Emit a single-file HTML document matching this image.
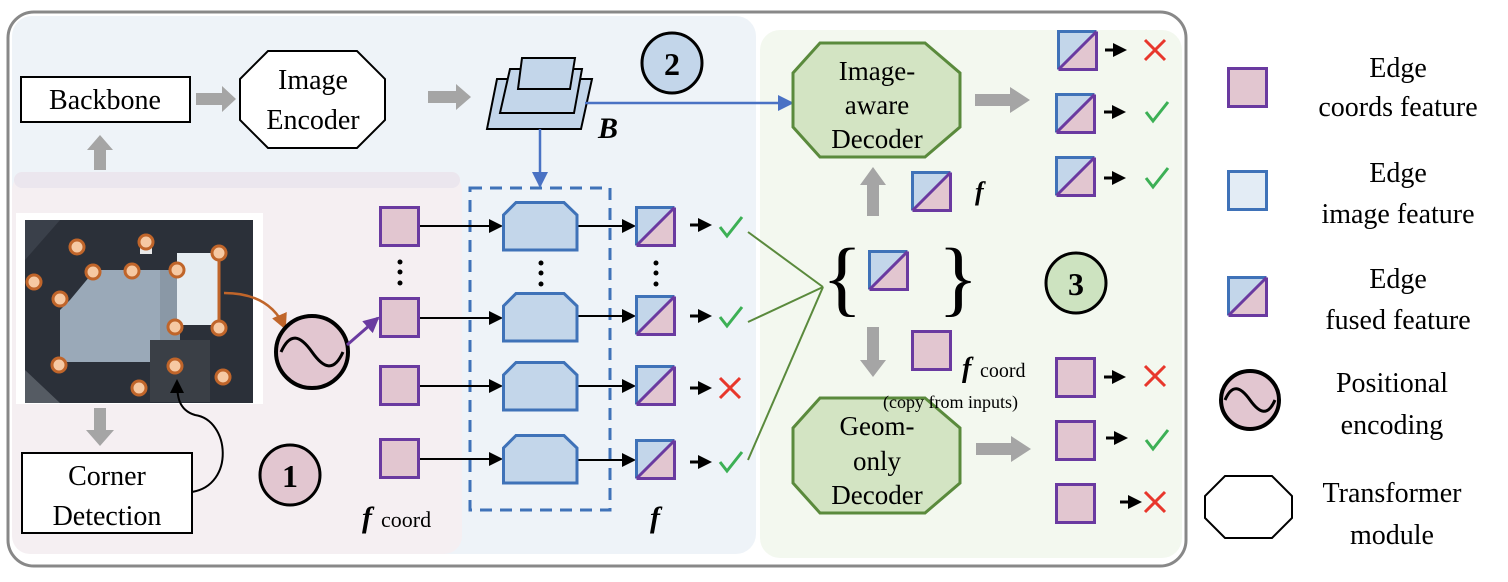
<!DOCTYPE html>
<html><head><meta charset="utf-8"><style>
html,body{margin:0;padding:0;background:#fff;}
svg{display:block;font-family:"Liberation Serif","DejaVu Serif",serif;}
svg text{font-family:"Liberation Serif","DejaVu Serif",serif !important;fill:#000;}
</style></head><body>
<svg width="1508" height="582" viewBox="0 0 1508 582" xmlns="http://www.w3.org/2000/svg" font-family="Liberation Serif, DejaVu Serif, serif">
<defs>
<marker id="ab" markerWidth="14" markerHeight="14" refX="12" refY="7" orient="auto" markerUnits="userSpaceOnUse"><path d="M0,0 L14,7 L0,14 z" fill="#000"/></marker>
<marker id="abl" markerWidth="16" markerHeight="16" refX="14" refY="8" orient="auto" markerUnits="userSpaceOnUse"><path d="M0,0 L16,8 L0,16 z" fill="#4a72c4"/></marker>
<marker id="apu" markerWidth="16" markerHeight="16" refX="14" refY="8" orient="auto" markerUnits="userSpaceOnUse"><path d="M0,0 L16,8 L0,16 z" fill="#6a3aa0"/></marker>
<marker id="aor" markerWidth="16" markerHeight="16" refX="14" refY="8" orient="auto" markerUnits="userSpaceOnUse"><path d="M0,0 L16,8 L0,16 z" fill="#c0652a"/></marker>
<g id="pk"><rect x="1.5" y="1.5" width="38" height="38" fill="#e2c6d0" stroke="#6a3aa0" stroke-width="3"/></g>
<g id="fu"><rect x="1.5" y="1.5" width="38" height="38" fill="#c3d6ea"/><path d="M1.5,39.5 L39.5,1.5 L39.5,39.5 z" fill="#e2c6d0"/><path d="M1.5,39.5 L1.5,1.5 L39.5,1.5" fill="none" stroke="#3f72b8" stroke-width="3"/><path d="M1.5,39.5 L39.5,39.5 L39.5,1.5 M1.5,39.5 L39.5,1.5" fill="none" stroke="#6a3aa0" stroke-width="3"/></g>
<g id="tb"><path d="M14,1.5 L62,1.5 L75,14 L75,49 L1.5,49 L1.5,14 z" fill="#c3d6ea" stroke="#3f72b8" stroke-width="3"/></g>
<g id="ck"><path d="M0,10 L7,19 L22,0" fill="none" stroke="#3cb055" stroke-width="3"/></g>
<g id="xx"><path d="M0,0 L20,20 M20,0 L0,20" fill="none" stroke="#e8372c" stroke-width="3"/></g>
<g id="sa"><line x1="0" y1="0" x2="10" y2="0" stroke="#000" stroke-width="3"/><path d="M8,-7 L22,0 L8,7 z" fill="#000"/></g>
</defs>

<rect x="12" y="16" width="744" height="538" rx="20" fill="#eef3f8"/>
<rect x="12" y="172" width="450" height="382" rx="18" fill="#f5eff2"/>
<rect x="14" y="172" width="446" height="16" rx="8" fill="#ebe6ee"/>
<rect x="760" y="30" width="422" height="528" rx="20" fill="#f3f8ef"/>
<rect x="8" y="12" width="1178" height="554" rx="26" fill="none" stroke="#888" stroke-width="3"/>

<rect x="21" y="77" width="169" height="45" fill="#fff" stroke="#000" stroke-width="2"/>
<text x="105" y="109" font-size="28" text-anchor="middle">Backbone</text>
<path d="M196,93 L222,93 L222,86 L236,99 L222,112 L222,105 L196,105 z" fill="#a5a5a5"/>
<path d="M268,51 L357,51 L385,79 L385,120 L357,148 L268,148 L240,120 L240,79 z" fill="#fff" stroke="#000" stroke-width="2"/>
<text x="313" y="89" font-size="28" text-anchor="middle">Image</text>
<text x="313" y="129" font-size="28" text-anchor="middle">Encoder</text>
<path d="M428,91 L456,91 L456,84 L471,97 L456,110 L456,103 L428,103 z" fill="#a5a5a5"/>
<path d="M497,79 L592,79 L581,129 L487,129 z" fill="#c3d6ea" stroke="#000" stroke-width="2"/>
<path d="M510,69 L582,69 L574,113 L500,113 z" fill="#c3d6ea" stroke="#000" stroke-width="2"/>
<path d="M522,58 L575,58 L570,89 L518,89 z" fill="#c3d6ea" stroke="#000" stroke-width="2"/>
<text x="598" y="138" font-size="30" font-weight="bold" font-style="italic">B</text>
<circle cx="672" cy="63" r="30" fill="#c3d6ea" stroke="#000" stroke-width="3"/>
<text x="672" y="75" font-size="32" font-weight="bold" text-anchor="middle">2</text>
<line x1="585" y1="103" x2="792" y2="103" stroke="#4a72c4" stroke-width="2.5" marker-end="url(#abl)"/>
<line x1="540" y1="129" x2="540" y2="186" stroke="#4a72c4" stroke-width="2.5" marker-end="url(#abl)"/>
<rect x="470" y="188" width="140" height="322" fill="none" stroke="#3f72b8" stroke-width="3" stroke-dasharray="12,8"/>

<path d="M94,170 L94,150 L87,150 L100,135 L113,150 L106,150 L106,170 z" fill="#a5a5a5"/>
<path d="M94,408 L94,430 L86,430 L100,446 L114,430 L106,430 L106,408 z" fill="#a5a5a5"/>

<rect x="16" y="213" width="247" height="191" fill="#fff"/>
<rect x="25" y="220" width="228" height="183" fill="#2b3039"/>
<path d="M25,220 L60,220 L25,260 z" fill="#3a404a"/>
<path d="M70,300 L95,270 L180,270 L180,362 L60,362 L60,310 z" fill="#9aa9b8"/>
<rect x="160" y="270" width="20" height="92" fill="#8a98a6"/>
<rect x="177" y="253" width="42" height="72" fill="#e6edf2"/>
<rect x="140" y="240" width="12" height="14" fill="#e8e8e8"/>
<rect x="150" y="340" width="60" height="62" fill="#3a3f46"/>
<path d="M25,370 L60,403 L25,403 z" fill="#555b63"/>
<line x1="219" y1="253" x2="219" y2="328" stroke="#c0652a" stroke-width="3"/>
<g fill="#f6c9a3" stroke="#c0652a" stroke-width="3">
<circle cx="77" cy="247" r="7"/><circle cx="146" cy="242" r="7"/><circle cx="219" cy="253" r="7"/><circle cx="34" cy="282" r="7"/><circle cx="93" cy="272" r="7"/><circle cx="132" cy="271" r="7"/><circle cx="177" cy="270" r="7"/><circle cx="60" cy="299" r="7"/><circle cx="175" cy="327" r="7"/><circle cx="219" cy="328" r="7"/><circle cx="59" cy="365" r="7"/><circle cx="175" cy="366" r="7"/><circle cx="223" cy="377" r="7"/><circle cx="139" cy="388" r="7"/>
</g>
<path d="M224,293 C255,293 275,305 285,328" fill="none" stroke="#c0652a" stroke-width="2.5" marker-end="url(#aor)"/>
<circle cx="312" cy="352" r="36" fill="#e2c6d0" stroke="#000" stroke-width="4"/>
<path d="M281,352 C290,332 300,335 312,352 C324,369 334,372 343,352" fill="none" stroke="#000" stroke-width="3"/>
<line x1="347" y1="345" x2="378" y2="318" stroke="#6a3aa0" stroke-width="3" marker-end="url(#apu)"/>
<rect x="22" y="453" width="170" height="80" fill="#fff" stroke="#000" stroke-width="2"/>
<text x="107" y="485" font-size="28" text-anchor="middle">Corner</text>
<text x="107" y="525" font-size="28" text-anchor="middle">Detection</text>
<path d="M192,492 C235,485 230,420 195,415 C178,410 177,395 177,381" fill="none" stroke="#000" stroke-width="2" marker-end="url(#ab)"/>
<circle cx="290" cy="475" r="30" fill="#e2c6d0" stroke="#000" stroke-width="3"/>
<text x="290" y="487" font-size="32" font-weight="bold" text-anchor="middle">1</text>

<use href="#pk" x="379" y="206"/><use href="#pk" x="379" y="297"/><use href="#pk" x="379" y="365"/><use href="#pk" x="379" y="438"/>
<g fill="#000"><circle cx="400" cy="262" r="2.5"/><circle cx="400" cy="272" r="2.5"/><circle cx="400" cy="283" r="2.5"/>
<circle cx="541" cy="263" r="2.5"/><circle cx="541" cy="273" r="2.5"/><circle cx="541" cy="284" r="2.5"/>
<circle cx="656" cy="263" r="2.5"/><circle cx="656" cy="273" r="2.5"/><circle cx="656" cy="284" r="2.5"/></g>
<g stroke="#000" stroke-width="2">
<line x1="420" y1="226" x2="501" y2="226" marker-end="url(#ab)"/><line x1="420" y1="318" x2="501" y2="318" marker-end="url(#ab)"/><line x1="420" y1="386" x2="501" y2="386" marker-end="url(#ab)"/><line x1="420" y1="459" x2="501" y2="459" marker-end="url(#ab)"/>
<line x1="578" y1="226" x2="634" y2="226" marker-end="url(#ab)"/><line x1="578" y1="316" x2="634" y2="316" marker-end="url(#ab)"/><line x1="578" y1="386" x2="634" y2="386" marker-end="url(#ab)"/><line x1="578" y1="460" x2="634" y2="460" marker-end="url(#ab)"/>
</g>
<use href="#tb" x="502" y="201"/><use href="#tb" x="502" y="292"/><use href="#tb" x="502" y="361"/><use href="#tb" x="502" y="434"/>
<use href="#fu" x="635" y="206"/><use href="#fu" x="635" y="295"/><use href="#fu" x="635" y="365"/><use href="#fu" x="635" y="439"/>
<use href="#sa" x="690" y="225"/><use href="#sa" x="690" y="316"/><use href="#sa" x="690" y="388"/><use href="#sa" x="690" y="462"/>
<use href="#ck" x="720" y="217"/><use href="#ck" x="720" y="307"/><use href="#xx" x="720" y="378"/><use href="#ck" x="720" y="452"/>
<text x="362" y="527" font-size="30" font-weight="bold" font-style="italic">f</text><text x="381" y="527" font-size="22">coord</text>
<text x="650" y="527" font-size="30" font-weight="bold" font-style="italic">f</text>

<g stroke="#5a8a3c" stroke-width="2" fill="none">
<line x1="748" y1="232" x2="823" y2="287"/><line x1="748" y1="322" x2="823" y2="287"/><line x1="748" y1="460" x2="823" y2="287"/>
</g>

<path d="M820,43 L925,43 L960,73 L960,127 L925,157 L820,157 L793,127 L793,73 z" fill="#d3e4c3" stroke="#5a8a3c" stroke-width="3"/>
<text x="877" y="80" font-size="27" text-anchor="middle">Image-</text>
<text x="877" y="114" font-size="27" text-anchor="middle">aware</text>
<text x="877" y="148" font-size="27" text-anchor="middle">Decoder</text>
<path d="M820,398 L925,398 L960,428 L960,483 L925,513 L820,513 L793,483 L793,428 z" fill="#d3e4c3" stroke="#5a8a3c" stroke-width="3"/>
<text x="877" y="435" font-size="27" text-anchor="middle">Geom-</text>
<text x="877" y="470" font-size="27" text-anchor="middle">only</text>
<text x="877" y="504" font-size="27" text-anchor="middle">Decoder</text>
<path d="M975,94 L1010,94 L1010,87 L1030,100 L1010,113 L1010,106 L975,106 z" fill="#a5a5a5"/>
<path d="M976,443 L1011,443 L1011,436 L1031,449 L1011,462 L1011,455 L976,455 z" fill="#a5a5a5"/>
<path d="M867,216 L867,185 L860,185 L873,167 L886,185 L879,185 L879,216 z" fill="#a5a5a5"/>
<path d="M867,327 L867,360 L860,360 L873,377 L886,360 L879,360 L879,327 z" fill="#a5a5a5"/>
<use href="#fu" x="911" y="171"/>
<text x="975" y="200" font-size="26" font-weight="bold" font-style="italic">f</text>
<text x="822" y="306" font-size="84">{</text>
<text x="938" y="306" font-size="84">}</text>
<use href="#fu" x="868" y="250"/>
<use href="#pk" x="911" y="330"/>
<text x="962" y="377" font-size="28" font-weight="bold" font-style="italic">f</text><text x="980" y="377" font-size="20">coord</text>
<text x="883" y="408" font-size="18">(copy from inputs)</text>
<circle cx="1076" cy="283" r="30" fill="#cde3c0" stroke="#000" stroke-width="3"/>
<text x="1076" y="295" font-size="32" font-weight="bold" text-anchor="middle">3</text>

<use href="#fu" x="1057" y="30"/><use href="#fu" x="1055" y="93"/><use href="#fu" x="1055" y="156"/>
<use href="#pk" x="1055" y="357"/><use href="#pk" x="1055" y="420"/><use href="#pk" x="1055" y="483"/>
<use href="#sa" x="1105" y="50"/><use href="#sa" x="1104" y="112"/><use href="#sa" x="1104" y="178"/>
<use href="#sa" x="1104" y="377"/><use href="#sa" x="1106" y="438"/><use href="#sa" x="1120" y="502"/>
<use href="#xx" x="1145" y="40"/><use href="#ck" x="1146" y="102"/><use href="#ck" x="1146" y="168"/>
<use href="#xx" x="1145" y="366"/><use href="#ck" x="1146" y="430"/><use href="#xx" x="1145" y="492"/>

<use href="#pk" x="1227" y="67"/><use href="#fu" x="1227" y="276"/>
<rect x="1228.5" y="171.5" width="38" height="38" fill="#e3ecf5" stroke="#3f72b8" stroke-width="3"/>
<circle cx="1250" cy="400" r="29" fill="#e2c6d0" stroke="#000" stroke-width="4"/>
<path d="M1225,400 C1232,384 1240,386 1250,400 C1260,414 1268,416 1275,400" fill="none" stroke="#000" stroke-width="3"/>
<path d="M1225,476 L1272,476 L1292,496 L1292,518 L1272,538 L1225,538 L1205,518 L1205,496 z" fill="#fff" stroke="#000" stroke-width="2"/>
<g font-size="28" text-anchor="middle">
<text x="1398" y="77">Edge</text><text x="1398" y="116">coords feature</text>
<text x="1398" y="182">Edge</text><text x="1398" y="223">image feature</text>
<text x="1398" y="288">Edge</text><text x="1398" y="329">fused feature</text>
<text x="1392" y="392">Positional</text><text x="1392" y="434">encoding</text>
<text x="1392" y="502">Transformer</text><text x="1392" y="544">module</text>
</g>
</svg>
</body></html>
